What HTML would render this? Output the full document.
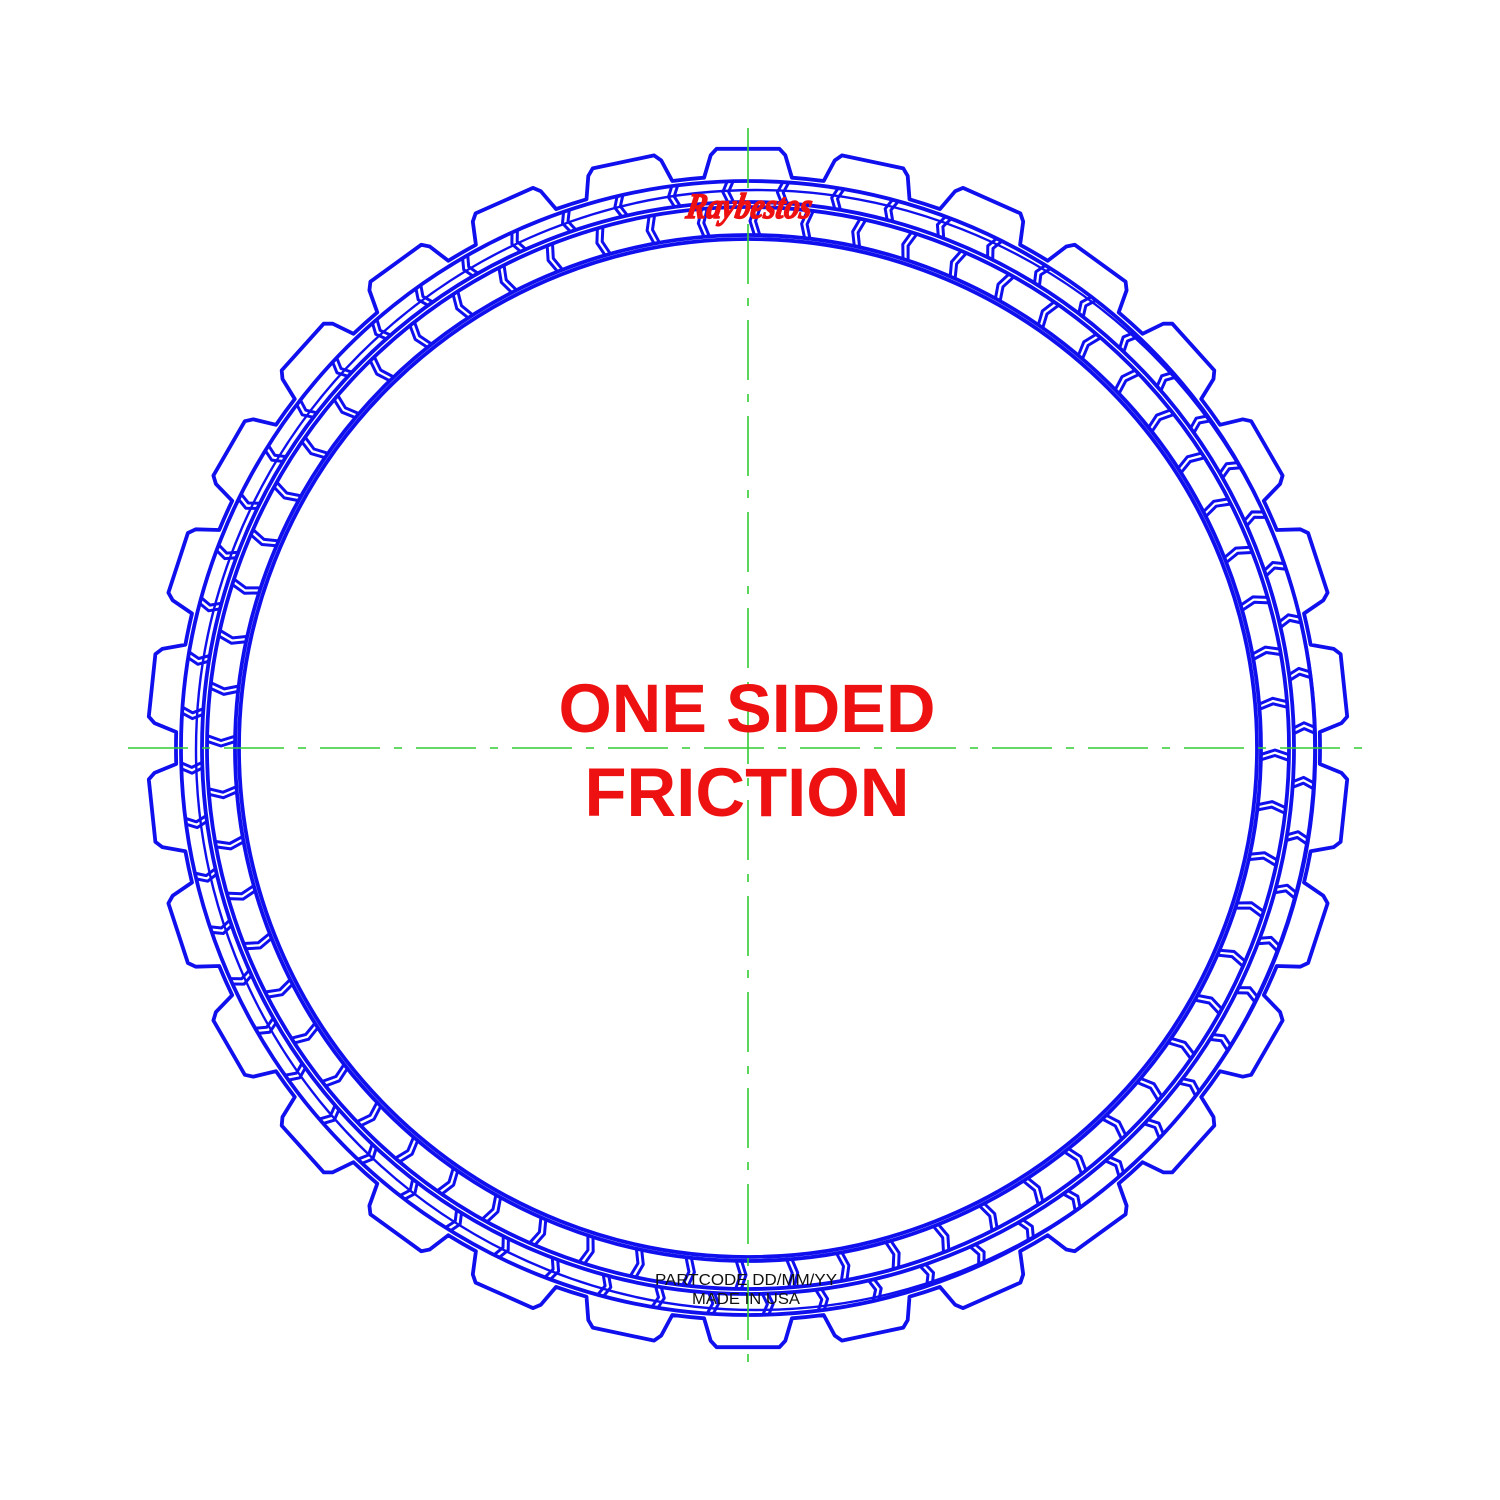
<!DOCTYPE html>
<html><head><meta charset="utf-8"><style>
html,body{margin:0;padding:0;background:#fff;}
svg{display:block;}
</style></head><body>
<svg id="plate" width="1500" height="1500" viewBox="0 0 1500 1500" xmlns="http://www.w3.org/2000/svg">
<rect width="1500" height="1500" fill="#fff"/>
<g id="ring" fill="none" stroke="#1010ee" stroke-width="3.8" stroke-linejoin="round"></g>
<g stroke="#33cc33" stroke-width="1.6" stroke-dasharray="60,14,8,14">
<line x1="128" y1="748" x2="1370" y2="748"/>
<line x1="748" y1="128" x2="748" y2="1370"/>
</g>
<text x="748" y="218" text-anchor="middle" font-family="Liberation Serif, serif" font-style="italic" font-weight="bold" font-size="36" fill="#ee1111" stroke="#ee1111" stroke-width="1.5" textLength="125" lengthAdjust="spacingAndGlyphs" transform="skewX(-10) translate(38,0)">Raybestos</text>
<text x="747" y="732" text-anchor="middle" font-family="Liberation Sans, sans-serif" font-weight="bold" font-size="69" fill="#ee1111" textLength="377" lengthAdjust="spacingAndGlyphs">ONE SIDED</text>
<text x="747" y="816" text-anchor="middle" font-family="Liberation Sans, sans-serif" font-weight="bold" font-size="69" fill="#ee1111" textLength="325" lengthAdjust="spacingAndGlyphs">FRICTION</text>
<text x="746" y="1285" text-anchor="middle" font-family="Liberation Sans, sans-serif" font-size="16" fill="#111" textLength="182" lengthAdjust="spacingAndGlyphs">PARTCODE DD/MM/YY</text>
<text x="746" y="1304" text-anchor="middle" font-family="Liberation Sans, sans-serif" font-size="16" fill="#111" textLength="108" lengthAdjust="spacingAndGlyphs">MADE IN USA</text>
</svg>
<script>
const toothCount = [30];
const bandRadii = [572, 567, 546, 541, 513, 509];
const segmentCount = [64];
const cx = 748, cy = 748;
const NS = 'http://www.w3.org/2000/svg';
const g = document.getElementById('ring');
function P(r, deg){ const a = deg*Math.PI/180; return [cx + r*Math.cos(a), cy - r*Math.sin(a)]; }
function pt(p){ return p[0].toFixed(1)+','+p[1].toFixed(1); }
let d = '';
const n = toothCount[0], step = 360/n;
for (let i=0;i<n;i++){
  const t = 90 + i*step;
  const pts = [P(572,t-4.4),P(594,t-3.6),P(600,t-3.0),P(600,t+3.0),P(594,t+3.6),P(572,t+4.4)];
  d += (i===0?'M':'L') + pts.map(pt).join(' L');
  const nx = P(572, t+step-4.4);
  d += ' A572,572 0 0 0 '+pt(nx)+' ';
}
d += 'Z';
const prof = document.createElementNS(NS,'path');
prof.setAttribute('d', d);


g.appendChild(prof);
bandRadii.slice(1).forEach((r, i) => {
  const c = document.createElementNS(NS,'circle');
  c.setAttribute('cx', cx); c.setAttribute('cy', cy); c.setAttribute('r', r);
  
  
  g.appendChild(c);
});
const ec = document.createElementNS(NS,'circle');
ec.setAttribute('cx', cx+8); ec.setAttribute('cy', cy+2); ec.setAttribute('r', 560);
ec.setAttribute('stroke-width','2.4');


g.appendChild(ec);
const m = segmentCount[0], sstep = 360/m;
function divider(r1, r2, a){
  const rm = (r1+r2)/2;
  for (const off of [0, 0.6]){
    const pl = document.createElementNS(NS,'polyline');
    pl.setAttribute('points', [P(r1,a+off),P(rm,a+off+0.5),P(r2,a+off)].map(pt).join(' '));
    pl.setAttribute('stroke-width','3');
    
    
    g.appendChild(pl);
  }
}
for (let i=0;i<m;i++){
  const a = 90 + i*sstep + 1.5;
  divider(bandRadii[1], bandRadii[2], a);
  divider(bandRadii[3], bandRadii[4], a + sstep/2);
}
</script>
</body></html>
